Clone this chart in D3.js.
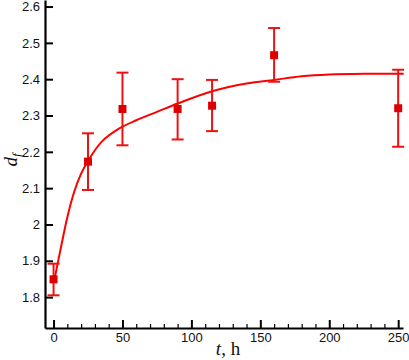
<!DOCTYPE html>
<html>
<head>
<meta charset="utf-8">
<script src="https://cdn.jsdelivr.net/npm/d3@7"></script>
<style>
  body { margin: 0; background: #fff; }
  svg { display: block; }
</style>
</head>
<body>
<div id="chart"></div>
<script>
// measured points
var times = [0, 25, 50, 90, 115, 160, 250];
var dfValues = [1.849, 2.173, 2.318, 2.318, 2.327, 2.466, 2.320];
var errLow = [1.805, 2.095, 2.218, 2.234, 2.257, 2.393, 2.214];
var errHigh = [1.892, 2.251, 2.418, 2.400, 2.398, 2.541, 2.426];

// fitted curve
var fitT = [1, 5, 10, 15, 20, 25, 35, 48, 60, 75, 90, 115, 140, 160, 180, 200, 225, 254];
var fitDf = [1.855, 1.930, 2.020, 2.090, 2.140, 2.175, 2.228, 2.265, 2.287, 2.310, 2.333, 2.367, 2.388, 2.398, 2.408, 2.413, 2.415, 2.415];

var xTicks = [0, 50, 100, 150, 200, 250];
var yTicks = [1.8, 1.9, 2.0, 2.1, 2.2, 2.3, 2.4, 2.5, 2.6];

width = 409;
height = 360;
left = 45;
right = 403;
top_ = 0;
bottom = 328;

var x = d3.scaleLinear().domain([-6.2, 253.5]).range([left, right]);
var y = d3.scaleLinear().domain([1.715, 2.618]).range([bottom, top_]);

var svg = d3.select("#chart").append("svg")
    .attr("width", width)
    .attr("height", height);

// minor x ticks every 10
var minor = d3.range(0, 251, 10).filter(function(d) { return d % 50 != 0; });
svg.append("g")
    .attr("transform", "translate(0," + bottom + ")")
    .call(d3.axisBottom(x).tickValues(minor).tickSizeInner(-4).tickSizeOuter(0).tickFormat(""))
    .call(function(g) { g.select(".domain").remove(); })
    .selectAll("line").attr("stroke", "#000").attr("stroke-width", 1.2);

var xAxis = svg.append("g")
    .attr("transform", "translate(0," + bottom + ")")
    .call(d3.axisBottom(x).tickValues(xTicks).tickSizeInner(-8).tickSizeOuter(0).tickPadding(5));
xAxis.select(".domain").attr("stroke", "#000").attr("stroke-width", 2.2);
xAxis.selectAll("line").attr("stroke", "#000").attr("stroke-width", 2);
xAxis.selectAll("text")
    .style("font-family", "'Liberation Sans', Arial, sans-serif")
    .style("font-size", "13px")
    .attr("fill", "#111");

var yAxis = svg.append("g")
    .attr("transform", "translate(" + left + ",0)")
    .call(d3.axisLeft(y).tickValues(yTicks).tickSizeInner(-8).tickSizeOuter(0).tickPadding(5)
        .tickFormat(function(d) { return String(+d.toFixed(1)); }));
yAxis.select(".domain").attr("stroke", "#000").attr("stroke-width", 2.2);
yAxis.selectAll("line").attr("stroke", "#000").attr("stroke-width", 2);
yAxis.selectAll("text")
    .style("font-family", "'Liberation Sans', Arial, sans-serif")
    .style("font-size", "13px")
    .attr("fill", "#111");

// fit line
var line = d3.line()
    .x(function(d) { return x(d[0]); })
    .y(function(d) { return y(d[1]); })
    .curve(d3.curveCatmullRom.alpha(0.5));

svg.append("path")
    .datum(d3.zip(fitT, fitDf))
    .attr("d", line)
    .attr("fill", "none")
    .attr("stroke", "#ff0000")
    .attr("stroke-width", 2);

// error bars
var cap = 6;
var eb = svg.append("g").attr("stroke", "#ee1111").attr("stroke-width", 2);
times.forEach(function(t, i) {
    eb.append("line")
        .attr("x1", x(t)).attr("x2", x(t))
        .attr("y1", y(errLow[i])).attr("y2", y(errHigh[i]));
    eb.append("line")
        .attr("x1", x(t) - cap).attr("x2", x(t) + cap)
        .attr("y1", y(errLow[i])).attr("y2", y(errLow[i]));
    eb.append("line")
        .attr("x1", x(t) - cap).attr("x2", x(t) + cap)
        .attr("y1", y(errHigh[i])).attr("y2", y(errHigh[i]));
});

// squares
var sz = 8;
svg.append("g").selectAll("rect")
    .data(times)
    .enter().append("rect")
    .attr("x", function(t) { return x(t) - sz / 2; })
    .attr("y", function(t, i) { return y(dfValues[i]) - sz / 2; })
    .attr("width", sz)
    .attr("height", sz)
    .attr("fill", "#dd0000");

// axis titles
var xt = svg.append("text")
    .attr("x", 228)
    .attr("y", 355)
    .attr("text-anchor", "middle")
    .style("font-family", "'Liberation Serif', 'Times New Roman', serif")
    .style("font-size", "19px")
    .attr("fill", "#111");
xt.append("tspan").style("font-style", "italic").text("t");
xt.append("tspan").text(", h");

var yt = svg.append("text")
    .attr("transform", "translate(17,160) rotate(-90)")
    .attr("text-anchor", "middle")
    .style("font-family", "'Liberation Serif', 'Times New Roman', serif")
    .style("font-size", "19px")
    .style("font-style", "italic")
    .attr("fill", "#111");
yt.append("tspan").text("d");
yt.append("tspan").attr("dy", 4).style("font-size", "13px").text("f");
</script>
</body>
</html>
